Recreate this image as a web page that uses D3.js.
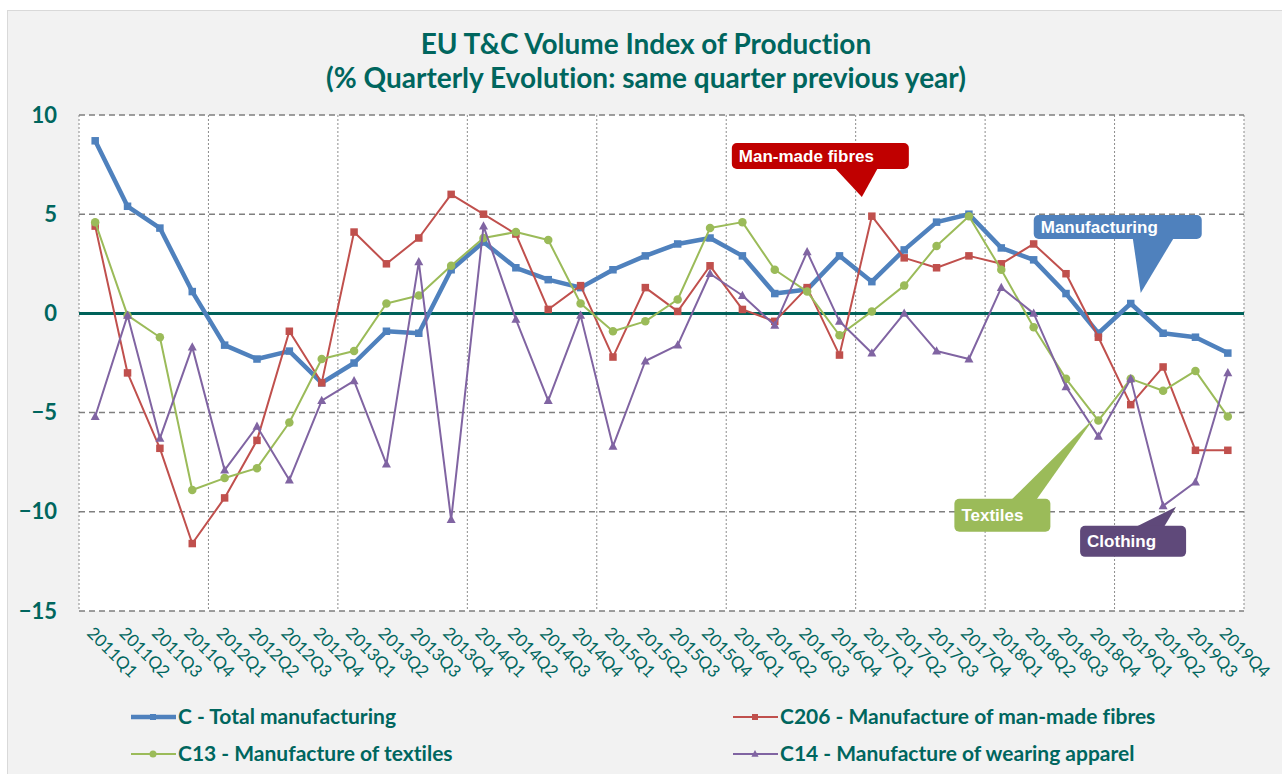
<!DOCTYPE html>
<html>
<head>
<meta charset="utf-8">
<script src="https://cdn.jsdelivr.net/npm/d3@7"></script>
<style>
  body { margin: 0; background: #ffffff; }
  svg { display: block; }
  text { font-variant-ligatures: none; }
</style>
</head>
<body>
<script>
// Quarters on the x axis
const quarters = [
  "2011Q1","2011Q2","2011Q3","2011Q4","2012Q1","2012Q2","2012Q3","2012Q4",
  "2013Q1","2013Q2","2013Q3","2013Q4","2014Q1","2014Q2","2014Q3","2014Q4",
  "2015Q1","2015Q2","2015Q3","2015Q4","2016Q1","2016Q2","2016Q3","2016Q4",
  "2017Q1","2017Q2","2017Q3","2017Q4","2018Q1","2018Q2","2018Q3","2018Q4",
  "2019Q1","2019Q2","2019Q3","2019Q4"
];

// % change vs same quarter previous year
const totalManufacturing = [
  8.7, 5.4, 4.3, 1.1, -1.6, -2.3, -1.9, -3.5,
  -2.5, -0.9, -1.0, 2.2, 3.6, 2.3, 1.7, 1.3,
  2.2, 2.9, 3.5, 3.8, 2.9, 1.0, 1.2, 2.9,
  1.6, 3.2, 4.6, 5.0, 3.3, 2.7, 1.0, -1.0,
  0.5, -1.0, -1.2, -2.0
];
const manMadeFibres = [
  4.4, -3.0, -6.8, -11.6, -9.3, -6.4, -0.9, -3.5,
  4.1, 2.5, 3.8, 6.0, 5.0, 4.0, 0.2, 1.4,
  -2.2, 1.3, 0.1, 2.4, 0.2, -0.4, 1.3, -2.1,
  4.9, 2.8, 2.3, 2.9, 2.5, 3.5, 2.0, -1.2,
  -4.6, -2.7, -6.9, -6.9
];
const textiles = [
  4.6, -0.1, -1.2, -8.9, -8.3, -7.8, -5.5, -2.3,
  -1.9, 0.5, 0.9, 2.4, 3.8, 4.1, 3.7, 0.5,
  -0.9, -0.4, 0.7, 4.3, 4.6, 2.2, 1.1, -1.1,
  0.1, 1.4, 3.4, 4.9, 2.2, -0.7, -3.3, -5.4,
  -3.3, -3.9, -2.9, -5.2
];
const wearingApparel = [
  -5.2, -0.1, -6.3, -1.7, -7.9, -5.7, -8.4, -4.4,
  -3.4, -7.6, 2.6, -10.4, 4.4, -0.3, -4.4, -0.1,
  -6.7, -2.4, -1.6, 2.0, 0.9, -0.6, 3.1, -0.4,
  -2.0, 0.0, -1.9, -2.3, 1.3, 0.0, -3.7, -6.2,
  -3.3, -9.7, -8.5, -3.0
];

const yTicks = [10, 5, 0, -5, -10, -15];

const seriesNames = [
  "C - Total manufacturing",
  "C206 - Manufacture of man-made fibres",
  "C13 - Manufacture of textiles",
  "C14 - Manufacture of wearing apparel"
];
const seriesValues = [totalManufacturing, manMadeFibres, textiles, wearingApparel];
const seriesColors = ["#4f81bd", "#c0504d", "#9bbb59", "#8064a2"];
const seriesWidths = [4.5, 2, 2, 2];
const seriesMarkers = ["square", "square", "circle", "triangle"];

// Callouts: label, target quarter, value at the tip
const calloutLabels = ["Man-made fibres", "Manufacturing", "Textiles", "Clothing"];
const calloutQuarters = ["2017Q1", "2019Q1", "2018Q4", "2019Q2"];
const calloutValues = [5.87, 1.03, -5.26, -9.75];
const calloutColors = ["#c00000", "#4f81bd", "#9bbb59", "#5f497a"];

const W = 1282, H = 774;
const teal = "#00665e";
const plot = { left: 79, right: 1244, top: 115, bottom: 611 };

const svg = d3.select("body").append("svg")
  .attr("width", W)
  .attr("height", H);

// outer chart area
svg.append("rect")
  .attr("x", 7.5).attr("y", 10.5)
  .attr("width", W - 7).attr("height", H - 10)
  .attr("fill", "#f2f2f2")
  .attr("stroke", "#d9d9d9");

// plot background
svg.append("rect")
  .attr("x", plot.left).attr("y", plot.top)
  .attr("width", plot.right - plot.left).attr("height", plot.bottom - plot.top)
  .attr("fill", "#ffffff");

const x = d3.scaleBand()
  .domain(quarters)
  .range([plot.left, plot.right])
  .padding(0);
const xc = q => x(q) + x.bandwidth() / 2;

const y = d3.scaleLinear()
  .domain([-15, 10])
  .range([plot.bottom, plot.top]);

// vertical dotted grid lines (year boundaries)
const yearStarts = quarters.filter(q => q.endsWith("Q1"));
svg.append("g").selectAll("line")
  .data(yearStarts.map(q => x(q)).concat([plot.right]))
  .enter().append("line")
  .attr("x1", d => d).attr("x2", d => d)
  .attr("y1", plot.top).attr("y2", plot.bottom)
  .attr("stroke", "#8c8c8c")
  .attr("stroke-width", 1)
  .attr("stroke-dasharray", "2,2");

// horizontal dashed grid lines
svg.append("g").selectAll("line")
  .data(yTicks.filter(d => d !== 0))
  .enter().append("line")
  .attr("x1", plot.left).attr("x2", plot.right)
  .attr("y1", d => y(d)).attr("y2", d => y(d))
  .attr("stroke", "#7f7f7f")
  .attr("stroke-width", 1.5)
  .attr("stroke-dasharray", "6,4");

// zero line
svg.append("line")
  .attr("x1", plot.left).attr("x2", plot.right)
  .attr("y1", y(0)).attr("y2", y(0))
  .attr("stroke", "#00625a")
  .attr("stroke-width", 3);

// y axis labels
const yAxis = svg.append("g")
  .attr("transform", `translate(${plot.left - 22},0)`)
  .call(d3.axisLeft(y).tickValues(yTicks).tickSize(0).tickPadding(0));
yAxis.select(".domain").remove();
yAxis.selectAll("text")
  .attr("fill", teal)
  .style("font-family", "Lato, 'Open Sans', sans-serif")
  .style("font-weight", "bold")
  .style("font-size", "22px");

// x axis labels, rotated
const xAxis = svg.append("g")
  .attr("transform", `translate(0,${plot.bottom + 19})`)
  .call(d3.axisBottom(x).tickSize(0).tickPadding(0));
xAxis.select(".domain").remove();
xAxis.selectAll("text")
  .attr("fill", teal)
  .style("font-family", "Lato, 'Open Sans', sans-serif")
  .style("font-size", "17px")
  .attr("text-anchor", "start")
  .attr("x", 0).attr("y", 0).attr("dy", "0.35em")
  .attr("transform", "translate(-5,0) rotate(45)");

// lines and markers
const lineGen = d3.line()
  .x((d, i) => xc(quarters[i]))
  .y(d => y(d));

function drawMarker(g, type, color, cx, cy, s) {
  if (type === "square") {
    g.append("rect")
      .attr("x", cx - s / 2).attr("y", cy - s / 2)
      .attr("width", s).attr("height", s)
      .attr("fill", color);
  } else if (type === "circle") {
    g.append("circle")
      .attr("cx", cx).attr("cy", cy).attr("r", s / 2 + 0.5)
      .attr("fill", color);
  } else {
    g.append("path")
      .attr("d", `M${cx},${cy - s * 0.65}L${cx + s * 0.6},${cy + s * 0.45}L${cx - s * 0.6},${cy + s * 0.45}Z`)
      .attr("fill", color);
  }
}

seriesValues.forEach((vals, si) => {
  const g = svg.append("g");
  g.append("path")
    .datum(vals)
    .attr("d", lineGen)
    .attr("fill", "none")
    .attr("stroke", seriesColors[si])
    .attr("stroke-width", seriesWidths[si])
    .attr("stroke-linejoin", "round");
  vals.forEach((v, i) => {
    drawMarker(g, seriesMarkers[si], seriesColors[si], xc(quarters[i]), y(v), 7.5);
  });
});

// callouts (box + pointer), offsets relative to the tip
const calloutGeom = [
  { dx: -10, box: [-130, -54, 177, 26], base: [-27, 16], baseY: "bottom" },
  { dx: 10, box: [-107, -78, 168, 24], base: [-8, 33], baseY: "bottom" },
  { dx: -4, box: [-140, 81, 96, 33], base: [-83, -58], baseY: "top" },
  { dx: 13, box: [-96, 19, 106, 31], base: [-40, -12], baseY: "top" }
];

calloutLabels.forEach((label, i) => {
  const gm = calloutGeom[i];
  const tx = xc(calloutQuarters[i]) + gm.dx;
  const ty = y(calloutValues[i]);
  const bx = tx + gm.box[0], by = ty + gm.box[1];
  const bw = gm.box[2], bh = gm.box[3];
  const g = svg.append("g");
  const edge = gm.baseY === "bottom" ? by + bh - 1 : by + 1;
  g.append("path")
    .attr("d", `M${tx + gm.base[0]},${edge}L${tx},${ty}L${tx + gm.base[1]},${edge}Z`)
    .attr("fill", calloutColors[i]);
  g.append("rect")
    .attr("x", bx).attr("y", by)
    .attr("width", bw).attr("height", bh)
    .attr("rx", 5)
    .attr("fill", calloutColors[i]);
  g.append("text")
    .attr("x", bx + 7)
    .attr("y", by + bh / 2)
    .attr("dy", "0.36em")
    .attr("fill", "#ffffff")
    .style("font-family", "'Liberation Sans', Arial, sans-serif")
    .style("font-weight", "bold")
    .style("font-size", "17px")
    .text(label);
});

// title
const title = svg.append("text")
  .attr("x", 646)
  .attr("text-anchor", "middle")
  .attr("fill", teal)
  .style("font-family", "Lato, 'Open Sans', sans-serif")
  .style("font-weight", "bold")
  .style("font-size", "28px");
title.append("tspan").attr("x", 646).attr("y", 54).text("EU T&C Volume Index of Production");
title.append("tspan").attr("x", 646).attr("y", 88).text("(% Quarterly Evolution: same quarter previous year)");

// legend (2 columns)
const legendPos = [[131, 717], [733, 717], [131, 754], [733, 754]];
seriesNames.forEach((name, i) => {
  const [lx, ly] = legendPos[i];
  const g = svg.append("g");
  g.append("line")
    .attr("x1", lx).attr("x2", lx + 45)
    .attr("y1", ly).attr("y2", ly)
    .attr("stroke", seriesColors[i])
    .attr("stroke-width", seriesWidths[i]);
  drawMarker(g, seriesMarkers[i], seriesColors[i], lx + 22, ly, 6);
  g.append("text")
    .attr("x", lx + 47)
    .attr("y", ly)
    .attr("dy", "0.35em")
    .attr("fill", teal)
    .style("font-family", "Lato, 'Open Sans', sans-serif")
    .style("font-weight", "bold")
    .style("font-size", "21px")
    .text(name);
});
</script>
</body>
</html>
